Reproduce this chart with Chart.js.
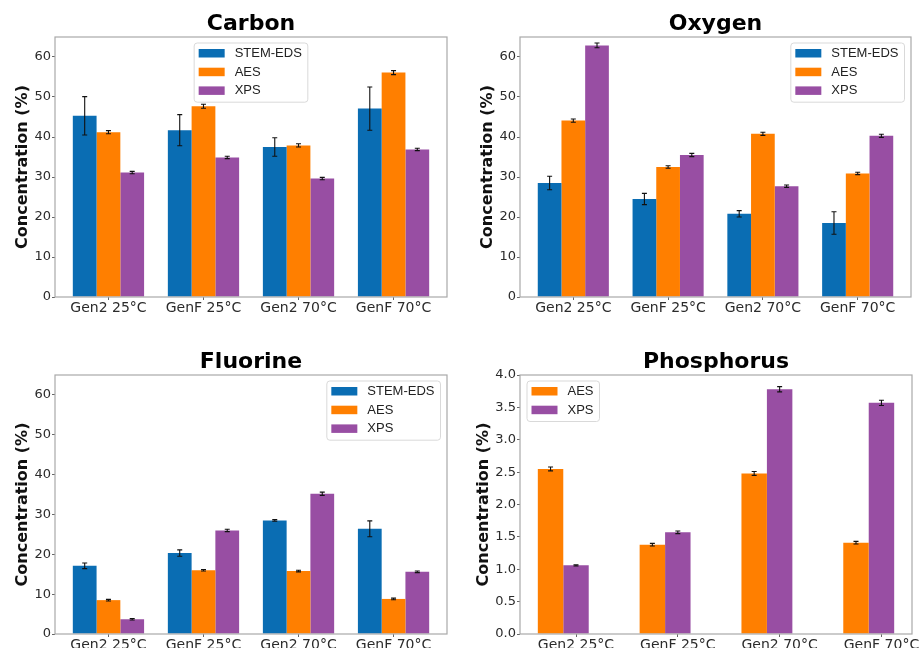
<!DOCTYPE html>
<html>
<head>
<meta charset="utf-8">
<script src="https://cdn.jsdelivr.net/npm/chart.js@4.4.1/dist/chart.umd.min.js"></script>
<style>
html, body { margin: 0; padding: 0; background: #fff; }
body { width: 919px; height: 648px; overflow: hidden; position: relative; }
canvas { position: absolute; }
</style>
</head>
<body>
<canvas id="carbon" width="470" height="324" style="left:0px;top:0px"></canvas>
<canvas id="oxygen" width="470" height="324" style="left:460px;top:0px"></canvas>
<canvas id="fluorine" width="470" height="337" style="left:0px;top:324px"></canvas>
<canvas id="phosphorus" width="480" height="337" style="left:460px;top:324px"></canvas>
<script>
var categories = ['Gen2 25°C', 'GenF 25°C', 'Gen2 70°C', 'GenF 70°C'];

var carbonEDS = [45.3, 41.7, 37.5, 47.1];
var carbonEDSErr = [4.8, 3.9, 2.3, 5.4];
var carbonAES = [41.2, 47.7, 37.9, 56.1];
var carbonAESErr = [0.4, 0.5, 0.4, 0.5];
var carbonXPS = [31.1, 34.9, 29.6, 36.9];
var carbonXPSErr = [0.3, 0.3, 0.3, 0.3];

var oxygenEDS = [28.5, 24.5, 20.8, 18.5];
var oxygenEDSErr = [1.7, 1.4, 0.8, 2.8];
var oxygenAES = [44.1, 32.5, 40.8, 30.9];
var oxygenAESErr = [0.4, 0.3, 0.4, 0.3];
var oxygenXPS = [62.9, 35.5, 27.7, 40.3];
var oxygenXPSErr = [0.6, 0.4, 0.3, 0.4];

var fluorineEDS = [17.1, 20.3, 28.5, 26.4];
var fluorineEDSErr = [0.7, 0.8, 0.2, 2.0];
var fluorineAES = [8.5, 16.0, 15.8, 8.8];
var fluorineAESErr = [0.2, 0.2, 0.2, 0.2];
var fluorineXPS = [3.7, 26.0, 35.2, 15.6];
var fluorineXPSErr = [0.2, 0.3, 0.4, 0.2];

var phosAES = [2.55, 1.38, 2.48, 1.41];
var phosAESErr = [0.03, 0.02, 0.03, 0.02];
var phosXPS = [1.06, 1.57, 3.78, 3.57];
var phosXPSErr = [0.01, 0.02, 0.04, 0.04];

var blue = '#0a6db3', orange = '#ff7f00', purple = '#984ea3';
var textColor = '#2b2b2b';

// error bars, axes box and matplotlib-like legend
var decor = {
	id: 'decor',
	afterDatasetsDraw: function(chart) {
		var ctx = chart.ctx, ys = chart.scales.y, a = chart.chartArea;
		ctx.save();
		ctx.strokeStyle = '#111';
		ctx.lineWidth = 1.1;
		chart.data.datasets.forEach(function(ds, i) {
			if (!ds.errors) return;
			chart.getDatasetMeta(i).data.forEach(function(bar, j) {
				var v = ds.data[j].y, e = ds.errors[j];
				var top = ys.getPixelForValue(v + e), bot = ys.getPixelForValue(v - e);
				ctx.beginPath();
				ctx.moveTo(bar.x, top); ctx.lineTo(bar.x, bot);
				ctx.moveTo(bar.x - 2.5, top); ctx.lineTo(bar.x + 2.5, top);
				ctx.moveTo(bar.x - 2.5, bot); ctx.lineTo(bar.x + 2.5, bot);
				ctx.stroke();
			});
		});

		ctx.strokeStyle = '#a9a9a9';
		ctx.lineWidth = 1.2;
		ctx.strokeRect(a.left, a.top, a.right - a.left, a.bottom - a.top);

		var loc = chart.options.plugins.decor.loc;
		var items = chart.data.datasets.filter(function(d) { return d.label; });
		ctx.font = '13px "Liberation Sans"';
		var tw = 0;
		items.forEach(function(d) { tw = Math.max(tw, ctx.measureText(d.label).width); });
		var w = 4.5 + 26 + 10 + tw + 6;
		var h = 6 + 8.5 + (items.length - 1) * 18.7 + 7.3;
		var x;
		if (loc == 'left') x = a.left + 7;
		else if (loc == 'right') x = a.right - 6.5 - w;
		else x = (a.left + a.right) / 2 - w / 2;
		var y = a.top + 6;
		ctx.beginPath();
		ctx.roundRect(x, y, w, h, 3);
		ctx.fillStyle = 'rgba(255,255,255,0.8)';
		ctx.fill();
		ctx.strokeStyle = '#d9d9d9';
		ctx.lineWidth = 1;
		ctx.stroke();
		ctx.textBaseline = 'middle';
		ctx.textAlign = 'left';
		items.forEach(function(d, k) {
			var ry = y + 6 + k * 18.7;
			ctx.fillStyle = d.backgroundColor;
			ctx.fillRect(x + 4.5, ry, 26, 8.5);
			ctx.fillStyle = '#222';
			ctx.fillText(d.label, x + 40.5, ry + 4.5);
		});
		ctx.restore();
	}
};

function makeChart(id, title, series, opts) {
	var datasets = series.map(function(s) {
		return {
			label: s.label,
			data: s.values.map(function(v, i) { return {x: i, y: v}; }),
			errors: s.errors,
			backgroundColor: s.color,
			borderWidth: 0,
			categoryPercentage: 0.75,
			barPercentage: 1.0
		};
	});
	var tickGrid = {display: true, drawOnChartArea: false, drawTicks: true, tickLength: 3, tickColor: '#666', tickWidth: 1, offset: false};
	return new Chart(document.getElementById(id), {
		type: 'bar',
		data: {datasets: datasets},
		plugins: [decor],
		options: {
			responsive: false,
			animation: false,
			layout: {padding: {left: 0, right: opts.padRight, top: 0, bottom: 0}},
			plugins: {
				legend: {display: false},
				tooltip: {enabled: false},
				decor: {loc: opts.legend},
				title: {
					display: true,
					text: title,
					fullSize: false,
					color: '#000',
					font: {family: 'DejaVu Sans', size: 22, weight: 'bold', lineHeight: 1.2},
					padding: {top: opts.titlePad, bottom: 0}
				}
			},
			scales: {
				x: {
					type: 'linear',
					min: opts.xmin,
					max: opts.xmax,
					offset: false,
					grid: tickGrid,
					border: {display: false},
					ticks: {
						color: textColor,
						font: {family: 'DejaVu Sans', size: 14},
						padding: 0,
						autoSkip: false,
						maxRotation: 0,
						minRotation: 0,
						callback: function(v) { return categories[v] || ''; }
					},
					afterBuildTicks: function(scale) {
						scale.ticks = categories.map(function(c, i) { return {value: i}; });
					},
					afterFit: function(scale) {
						scale.height = 27;
						scale.paddingLeft = 0;
						scale.paddingRight = 0;
					}
				},
				y: {
					min: 0,
					max: opts.ymax,
					grid: tickGrid,
					border: {display: false},
					ticks: {
						stepSize: opts.ystep,
						includeBounds: false,
						color: textColor,
						font: {family: 'DejaVu Sans', size: 13},
						padding: 1,
						callback: opts.yfmt
					},
					title: {
						display: true,
						text: 'Concentration (%)',
						color: '#111',
						font: {family: 'DejaVu Sans', size: 16, weight: 'bold', lineHeight: 1.2},
						padding: {top: opts.ytitlePad, bottom: 0}
					},
					afterFit: function(scale) {
						scale.width = opts.yWidth;
						scale.paddingTop = 0;
						scale.paddingBottom = 0;
					}
				}
			}
		}
	});
}

var intFmt = function(v) { return v; };
var decFmt = function(v) { return v.toFixed(1); };

makeChart('carbon', 'Carbon', [
	{label: 'STEM-EDS', values: carbonEDS, errors: carbonEDSErr, color: blue},
	{label: 'AES', values: carbonAES, errors: carbonAESErr, color: orange},
	{label: 'XPS', values: carbonXPS, errors: carbonXPSErr, color: purple}
], {xmin: -0.5625, xmax: 3.5625, ymax: 65, ystep: 10, yfmt: intFmt, legend: 'center',
	padRight: 23, yWidth: 55, ytitlePad: 12.9, titlePad: 10.6});

makeChart('oxygen', 'Oxygen', [
	{label: 'STEM-EDS', values: oxygenEDS, errors: oxygenEDSErr, color: blue},
	{label: 'AES', values: oxygenAES, errors: oxygenAESErr, color: orange},
	{label: 'XPS', values: oxygenXPS, errors: oxygenXPSErr, color: purple}
], {xmin: -0.5625, xmax: 3.5625, ymax: 65, ystep: 10, yfmt: intFmt, legend: 'right',
	padRight: 19, yWidth: 60, ytitlePad: 18.4, titlePad: 10.6});

makeChart('fluorine', 'Fluorine', [
	{label: 'STEM-EDS', values: fluorineEDS, errors: fluorineEDSErr, color: blue},
	{label: 'AES', values: fluorineAES, errors: fluorineAESErr, color: orange},
	{label: 'XPS', values: fluorineXPS, errors: fluorineXPSErr, color: purple}
], {xmin: -0.5625, xmax: 3.5625, ymax: 65, ystep: 10, yfmt: intFmt, legend: 'right',
	padRight: 23, yWidth: 55, ytitlePad: 12.9, titlePad: 24.6});

// third empty slot keeps AES/XPS at the same offsets as the other panels
makeChart('phosphorus', 'Phosphorus', [
	{label: 'AES', values: phosAES, errors: phosAESErr, color: orange},
	{label: 'XPS', values: phosXPS, errors: phosXPSErr, color: purple},
	{label: '', values: [], errors: [], color: 'rgba(0,0,0,0)'}
], {xmin: -0.55, xmax: 3.3, ymax: 4.0, ystep: 0.5, yfmt: decFmt, legend: 'left',
	padRight: 28, yWidth: 60, ytitlePad: 13.9, titlePad: 24.6});
</script>
</body>
</html>
